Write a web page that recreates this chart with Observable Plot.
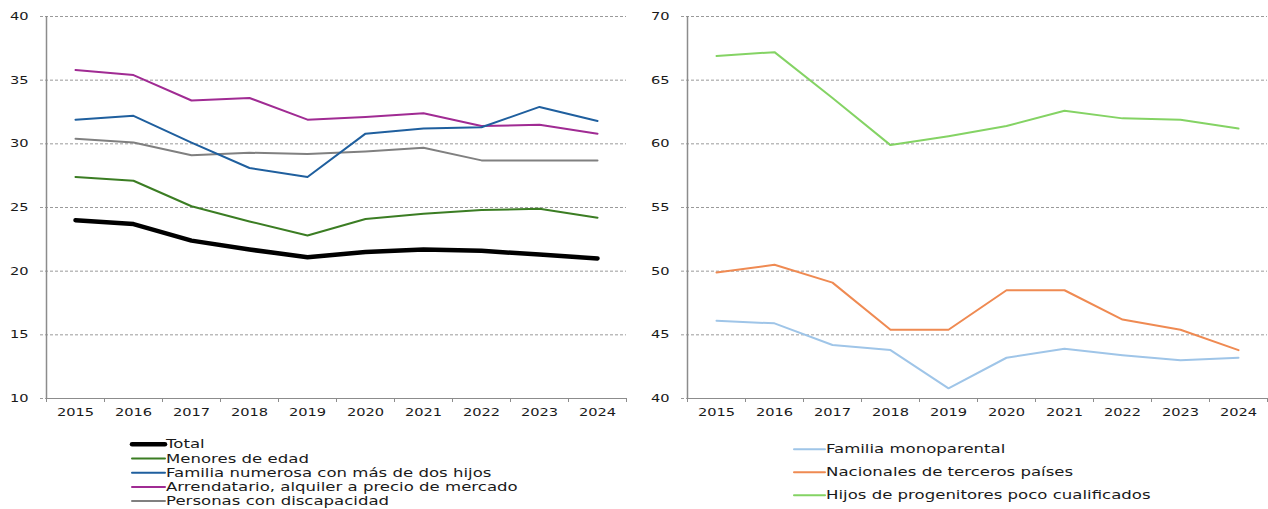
<!DOCTYPE html>
<html>
<head>
<meta charset="utf-8">
<script src="https://cdn.jsdelivr.net/npm/d3@7"></script>
<script src="https://cdn.jsdelivr.net/npm/@observablehq/plot@0.6"></script>
<style>
  body { margin: 0; background: #fff; }
  #wrap { position: relative; width: 1268px; height: 509px; overflow: hidden; font-family: "DejaVu Sans", sans-serif; }
  #wrap > svg { position: absolute; top: 0; }
</style>
</head>
<body>
<div id="wrap"></div>
<script>
// ---------- data ----------
const years = [2015, 2016, 2017, 2018, 2019, 2020, 2021, 2022, 2023, 2024];

// left panel
const leftNames = [
  "Total",
  "Menores de edad",
  "Familia numerosa con más de dos hijos",
  "Arrendatario, alquiler a precio de mercado",
  "Personas con discapacidad"
];
const total        = [24.0, 23.7, 22.4, 21.7, 21.1, 21.5, 21.7, 21.6, 21.3, 21.0];
const menores      = [27.4, 27.1, 25.1, 23.9, 22.8, 24.1, 24.5, 24.8, 24.9, 24.2];
const numerosa     = [31.9, 32.2, 30.1, 28.1, 27.4, 30.8, 31.2, 31.3, 32.9, 31.8];
const arrendatario = [35.8, 35.4, 33.4, 33.6, 31.9, 32.1, 32.4, 31.4, 31.5, 30.8];
const discapacidad = [30.4, 30.1, 29.1, 29.3, 29.2, 29.4, 29.7, 28.7, 28.7, 28.7];
const leftSeries = [total, menores, numerosa, arrendatario, discapacidad];
const leftColors = ["#000000", "#3b7d23", "#1f5f9e", "#a02b93", "#808080"];
const leftWidths = [4.5, 2, 2, 2, 2];
const leftYTicks = [10, 15, 20, 25, 30, 35, 40];

// right panel
const rightNames = [
  "Familia monoparental",
  "Nacionales de terceros países",
  "Hijos de progenitores poco cualificados"
];
const monoparental = [46.1, 45.9, 44.2, 43.8, 40.8, 43.2, 43.9, 43.4, 43.0, 43.2];
const terceros     = [49.9, 50.5, 49.1, 45.4, 45.4, 48.5, 48.5, 46.2, 45.4, 43.8];
const progenitores = [66.9, 67.2, 63.6, 59.9, 60.6, 61.4, 62.6, 62.0, 61.9, 61.2];
const rightSeries = [monoparental, terceros, progenitores];
const rightColors = ["#9fc5e8", "#ef8a52", "#84d364"];
const rightWidths = [2, 2, 2];
const rightYTicks = [40, 45, 50, 55, 60, 65, 70];

// ---------- helpers ----------
const TICK_STRETCH = 1.33;
const LEGEND_STRETCH = 1.44;

// horizontally stretch every text around its own anchor point (after it is in the DOM)
function stretchTexts(svg, k) {
  svg.querySelectorAll("text").forEach(t => {
    const b = t.getBBox();
    const anchor = getComputedStyle(t).textAnchor;
    const ax = anchor === "end" ? b.x + b.width : anchor === "middle" ? b.x + b.width / 2 : b.x;
    const tr = t.getAttribute("transform") || "";
    t.setAttribute("transform", `${tr} translate(${ax},0) scale(${k},1) translate(${-ax},0)`);
  });
}

const boundaries = years.map(y => y - 0.5).concat([years[years.length - 1] + 0.5]);

function panel({width, marginLeft, marginRight, yDomain, yTicks, series, colors, widths}) {
  const marks = [
    Plot.ruleY(yTicks, {stroke: "#9a9a9a", strokeWidth: 1, strokeDasharray: "3,2", insetLeft: -6}),
    Plot.ruleX([boundaries[0]], {stroke: "#8c8c8c", strokeWidth: 1.5}),
    Plot.ruleY([yDomain[0]], {stroke: "#8c8c8c", strokeWidth: 1}),
    Plot.axisX({ticks: boundaries, tickSize: 4, tickFormat: () => "", stroke: "#8c8c8c"}),
    Plot.axisX({ticks: years, tickSize: 0, tickPadding: 10, tickFormat: d => String(d), fill: "#1a1a1a"}),
    Plot.axisY({ticks: yTicks, tickSize: 0, tickPadding: 18, tickFormat: d => String(d), fill: "#1a1a1a"})
  ];
  series.forEach((vals, i) => {
    marks.push(Plot.lineY(vals, {x: years, stroke: colors[i], strokeWidth: widths[i], strokeLinejoin: "round", strokeLinecap: "round"}));
  });
  return Plot.plot({
    width, height: 420,
    marginTop: 16, marginBottom: 22, marginLeft, marginRight,
    x: {type: "linear", domain: [boundaries[0], boundaries[boundaries.length - 1]]},
    y: {domain: yDomain},
    style: {fontFamily: "DejaVu Sans", fontSize: "11px", background: "transparent", overflow: "visible"},
    marks
  });
}

const wrap = document.getElementById("wrap");

const left = panel({
  width: 640, marginLeft: 46, marginRight: 14,
  yDomain: [10, 40], yTicks: leftYTicks,
  series: [...leftSeries].reverse(), colors: [...leftColors].reverse(), widths: [...leftWidths].reverse()
});
left.style.left = "0px";
wrap.appendChild(left);
stretchTexts(left, TICK_STRETCH);

const right = panel({
  width: 628, marginLeft: 47, marginRight: 1,
  yDomain: [40, 70], yTicks: rightYTicks,
  series: rightSeries, colors: rightColors, widths: rightWidths
});
right.style.left = "640px";
wrap.appendChild(right);
stretchTexts(right, TICK_STRETCH);

// ---------- legends ----------
const leg = d3.select(wrap).append("svg")
  .attr("width", 1268).attr("height", 509)
  .style("left", "0px")
  .style("font-family", "DejaVu Sans").style("font-size", "11.5px");

function legend(names, colors, widths, x0, x1, y0, dy) {
  const g = leg.append("g");
  names.forEach((n, i) => {
    const y = y0 + i * dy;
    g.append("line").attr("x1", x0).attr("x2", x1).attr("y1", y).attr("y2", y)
      .attr("stroke", colors[i]).attr("stroke-width", widths[i]).attr("stroke-linecap", "round");
    g.append("text").attr("transform", `translate(${x1 + 1},${y}) scale(${LEGEND_STRETCH},1)`)
      .attr("dy", "0.35em").attr("fill", "#1a1a1a").text(n);
  });
}
legend(leftNames, leftColors, leftWidths, 132, 165, 444.3, 14.2);
legend(rightNames, rightColors, rightWidths, 794, 825, 449.3, 23);
</script>
</body>
</html>
